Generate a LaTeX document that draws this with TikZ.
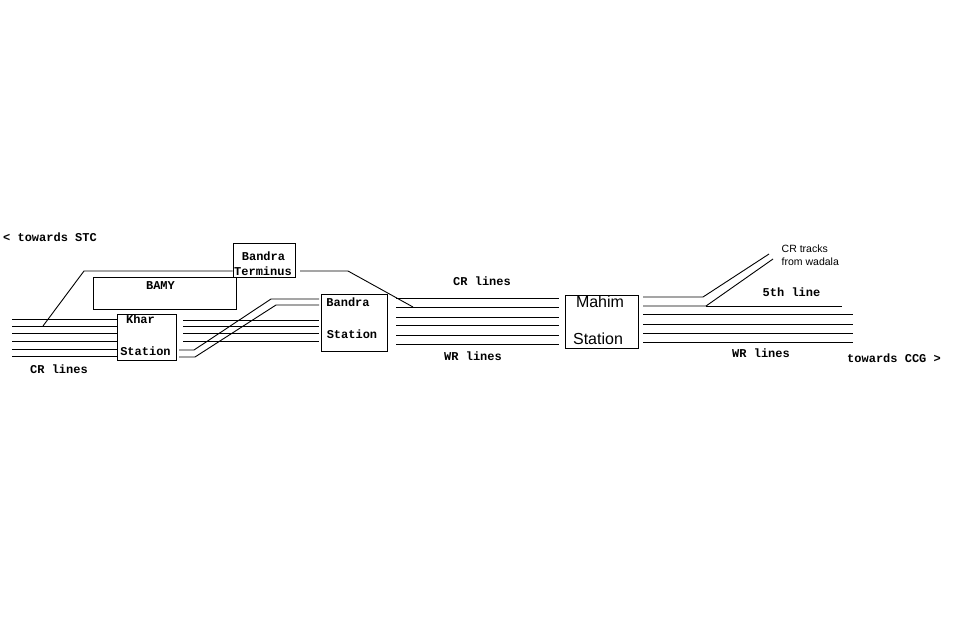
\documentclass[tikz,border=0pt]{standalone}
\usepackage{fontspec}
\newfontfamily\pixmono{Liberation Mono}
\newfontfamily\pixsans{Liberation Sans}
\usepackage{tikz}

\tikzset{
	track/.style={line width=0.9pt},
	stnbox/.style={draw, line width=0.9pt, inner sep=0pt},
	lbl/.style={font=\pixmono\bfseries\fontsize{12}{13}\selectfont, inner sep=0pt},
	biglbl/.style={font=\pixsans\fontsize{16}{18}\selectfont, inner sep=0pt},
	smalllbl/.style={font=\pixsans\fontsize{10.5}{12}\selectfont, inner sep=0pt, anchor=west}
}

\begin{document}
\begin{tikzpicture}[x=1pt, y=-1pt]
	\useasboundingbox (0, 0) rectangle (953, 619);

	\node[stnbox, minimum width=59pt, minimum height=46pt] (kharbox) at (146.5, 337) {};
	\node[stnbox, minimum width=143pt, minimum height=32pt] (bamybox) at (164.5, 293) {};
	\node[stnbox, minimum width=62pt, minimum height=34pt] (termbox) at (264, 260) {};
	\node[stnbox, minimum width=66pt, minimum height=57pt] (bandrabox) at (354, 322.5) {};
	\node[stnbox, minimum width=73pt, minimum height=53pt] (mahimbox) at (601.5, 321.5) {};

	\node[lbl] (khar) at (140.5, 319.5) {Khar};
	\node[lbl] (kharstn) at (145.5, 351) {Station};
	\node[lbl] (bamy) at (160.5, 285.5) {BAMY};
	\node[lbl] (term1) at (263.5, 256.5) {Bandra};
	\node[lbl] (term2) at (263, 271.5) {Terminus};
	\node[lbl] (bandra1) at (348, 302) {Bandra};
	\node[lbl] (bandra2) at (352, 334) {Station};
	\node[biglbl] (mahim) at (600, 301.5) {Mahim};
	\node[biglbl] (mahimstn) at (598, 339) {Station};

	\node[lbl] (stc) at (50, 237) {< towards STC};
	\node[lbl] (crleft) at (59, 369) {CR lines};
	\node[lbl] (crmid) at (482, 281) {CR lines};
	\node[lbl] (wrmid) at (473, 356) {WR lines};
	\node[lbl] (fifth) at (791.5, 292) {5th line};
	\node[lbl] (wrright) at (761, 353) {WR lines};
	\node[lbl] (ccg) at (894, 358) {towards CCG >};
	\node[smalllbl] (wadala1) at (781.5, 248.5) {CR tracks};
	\node[smalllbl] (wadala2) at (781.5, 262) {from wadala};

	\draw[track]
		(12, 319) -- (117, 319)
		(12, 326) -- (117, 326)
		(12, 333) -- (117, 333)
		(12, 341) -- (117, 341)
		(12, 349) -- (117, 349)
		(12, 356) -- (117, 356);

	\draw[track] (43, 326) -- (84, 271) -- (termbox.west |- 0, 271);
	\draw[track] (300, 271) -- (348, 271) -- (413, 307);

	\draw[track]
		(183, 320) -- (319, 320)
		(183, 326) -- (319, 326)
		(183, 333) -- (319, 333)
		(183, 341) -- (319, 341);
	\draw[track] (179, 350) -- (194, 350) -- (271, 299) -- (319, 299);
	\draw[track] (179, 357) -- (195, 357) -- (276, 305) -- (319, 305);

	\draw[track]
		(396, 298) -- (559, 298)
		(396, 307) -- (559, 307)
		(396, 317) -- (559, 317)
		(396, 325) -- (559, 325)
		(396, 335) -- (559, 335)
		(396, 344) -- (559, 344);

	\draw[track] (643, 297) -- (703, 297) -- (769, 254);
	\draw[track] (643, 306) -- (706, 306) -- (773, 259);
	\draw[track] (706, 306) -- (842, 306);
	\draw[track]
		(643, 314) -- (853, 314)
		(643, 324) -- (853, 324)
		(643, 333) -- (853, 333)
		(643, 342) -- (853, 342);
\end{tikzpicture}
\end{document}
